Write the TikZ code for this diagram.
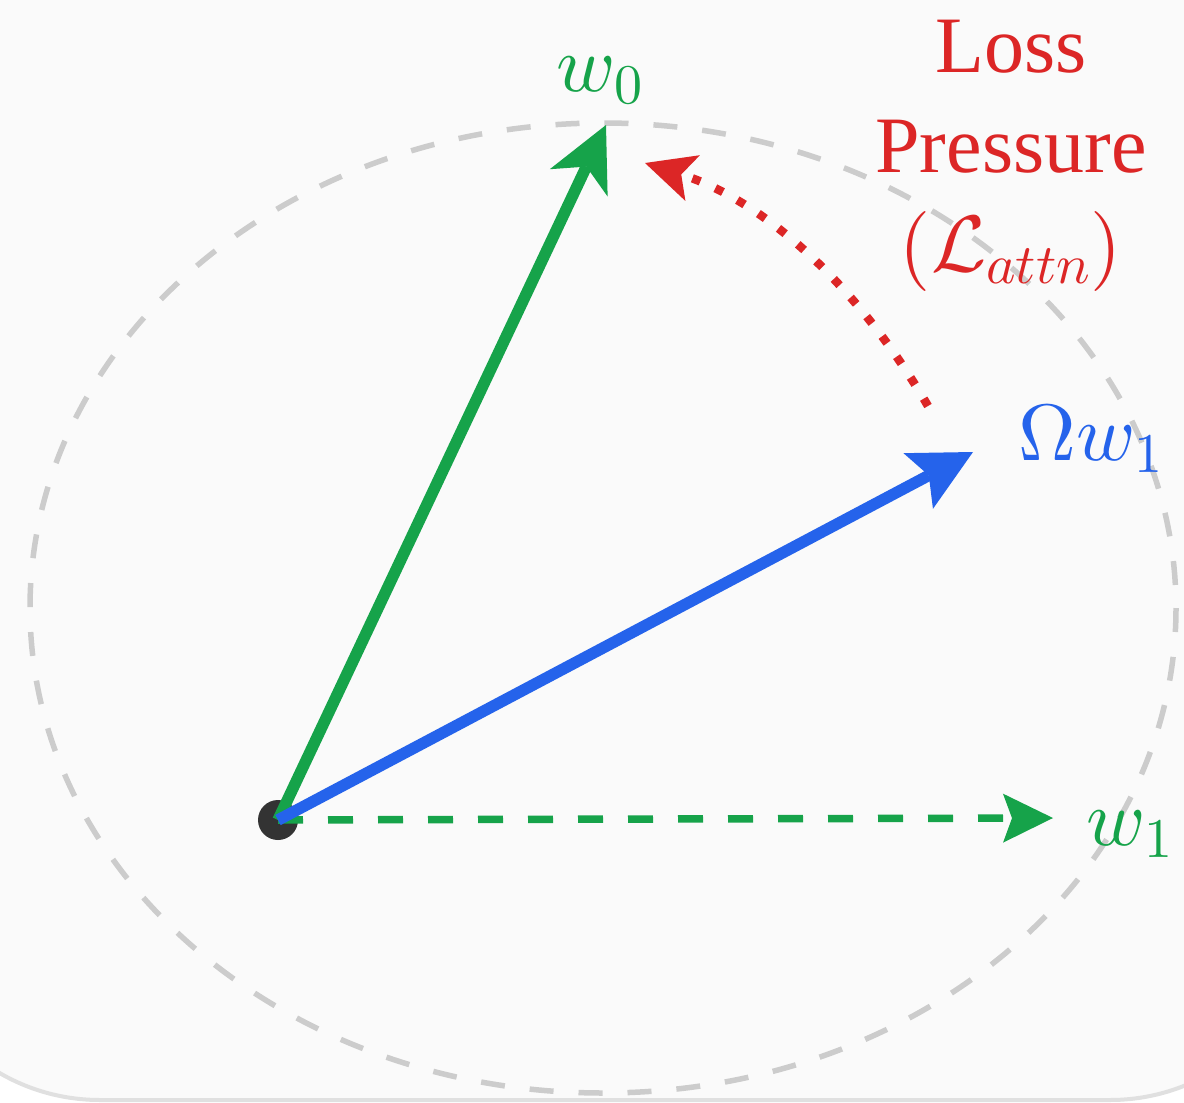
\documentclass[tikz,border=0pt]{standalone}
\usepackage[no-math]{fontspec}
\setmainfont{Liberation Serif}
\DeclareFontShape{OML}{cmm}{m}{it}{<->cmmi10}{}
\DeclareFontShape{OT1}{cmr}{m}{n}{<->cmr10}{}
\DeclareFontShape{OMS}{cmsy}{m}{n}{<->cmsy10}{}
\usetikzlibrary{arrows.meta}
\definecolor{bgfill}{HTML}{FAFAFA}
\definecolor{bgedge}{HTML}{E0E0E0}
\definecolor{ellgray}{HTML}{CCCCCC}
\definecolor{vgreen}{HTML}{16A34A}
\definecolor{vblue}{HTML}{2563EB}
\definecolor{vred}{HTML}{DC2626}
\definecolor{dotgray}{HTML}{333333}
\begin{document}
\begin{tikzpicture}[x=0.5pt,y=-0.5pt,
  lbl/.style={inner sep=0pt, font=\fontsize{40}{49.75}\selectfont},
  gsolid/.style={draw=vgreen, line width=5.75pt,
    -{Stealth[length=32pt, width=32pt, inset=9pt, line width=0pt]}},
  bsolid/.style={draw=vblue, line width=5.75pt,
    -{Stealth[length=31pt, width=31.5pt, inset=6pt, line width=0pt]}},
  gdash/.style={draw=vgreen, line width=3.75pt, dash pattern=on 12.5pt off 12.5pt,
    -{Stealth[length=25pt, width=24.5pt, inset=4.5pt, line width=0pt]}},
  rdot/.style={draw=vred, line width=4.25pt, dash pattern=on 4.25pt off 8.25pt,
    -{Stealth[length=25pt, width=24pt, inset=6pt, line width=0pt]}},
  ellstyle/.style={draw=ellgray, line width=2.75pt, dash pattern=on 12pt off 12.5pt},
]
\useasboundingbox (0,0) rectangle (1184,1103);
\clip (0,0) rectangle (1184,1103);
\fill[white] (0,0) rectangle (1184,1103);
\draw[fill=bgfill, draw=bgedge, line width=2pt, rounded corners=100pt]
  (-100,-300) rectangle (1310,1100);

\draw[ellstyle] (603,608) ellipse [x radius=573, y radius=485];

\node[circle, fill=dotgray, inner sep=0pt, minimum size=20pt] (O) at (278,820) {};
\coordinate (A0) at (606,125);
\coordinate (A1) at (973,452);
\coordinate (B1) at (1053,818);
\coordinate (R0) at (928,406);
\coordinate (R1) at (645,163);

\draw[gdash] (O.center) -- (B1);
\draw[gsolid] (O.center) -- (A0);
\draw[bsolid] (O.center) -- (A1);
\draw[rdot] (R0) .. controls (858,286) and (765,201) .. (R1);

\node[lbl, text=vgreen, anchor=base] (lw0) at (600,91) {$w_0$};
\node[lbl, text=vred, align=center] (lloss) at (1011,156) {Loss\\Pressure\\$(\mathcal{L}_{attn})$};
\node[lbl, text=vblue, anchor=base] (lom) at (1091,460) {$\Omega w_1$};
\node[lbl, text=vgreen, anchor=base] (lw1) at (1130,845) {$w_1$};
\end{tikzpicture}
\end{document}
